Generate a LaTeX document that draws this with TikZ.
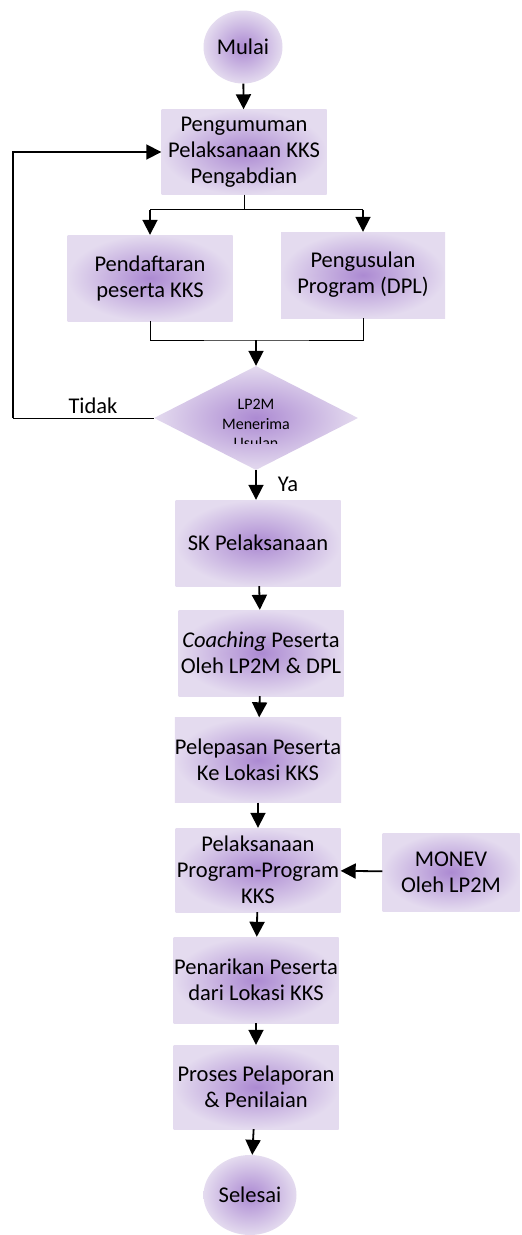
\documentclass[tikz,border=0pt]{standalone}
\usepackage{fontspec}
\setmainfont{Carlito}
\usepackage{tikz}
\usetikzlibrary{shapes.geometric}
\usetikzlibrary{arrows.meta}
\definecolor{lila}{RGB}{172,138,210}
\definecolor{lilapale}{RGB}{228,219,239}

\begin{document}
\begin{tikzpicture}[x=1pt,y=-1pt,
  >={Triangle[width=15pt,length=15pt]},
  kotak/.style={rectangle,minimum width=165,minimum height=85,inner sep=0,
    inner color=lila,outer color=lilapale,align=center,
    font=\fontsize{22.5}{26}\selectfont},
  bulat/.style={ellipse,inner sep=0,inner color=lila,outer color=lilapale,
    font=\fontsize{22.5}{26}\selectfont},
  panah/.style={->,line width=1.8pt},
  garis/.style={line width=1pt}]
\useasboundingbox (0,0) rectangle (522,1235);

\node [bulat,minimum width=79,minimum height=73] (mulai) at (243,47) {Mulai};
\node [kotak] (umum) at (244,152) {Pengumuman\\Pelaksanaan KKS\\Pengabdian};
\node [kotak,minimum height=86] (daftar) at (150,278) {Pendaftaran\\peserta KKS};
\node [kotak,minimum width=164,minimum height=86] (usul) at (363,275) {Pengusulan\\Program (DPL)};
\node [diamond,minimum width=204,minimum height=104,aspect=1.96,inner sep=0,
  inner color=lila,outer color=lilapale] (lp) at (256,418) {};
\begin{scope}
\clip (154,380) rectangle (358,443);
\node [align=center,font=\fontsize{16}{19.5}\selectfont] (lptext) at (256,424) {LP2M\\Menerima\\Usulan};
\end{scope}
\node [kotak,minimum height=86] (sk) at (258,543) {SK Pelaksanaan};
\node [kotak,minimum height=86] (coach) at (261,653) {\textit{Coaching} Peserta\\Oleh LP2M \& DPL};
\node [kotak] (lepas) at (258,760) {Pelepasan Peserta\\Ke Lokasi KKS};
\node [kotak,minimum height=84] (laksana) at (258,870) {Pelaksanaan\\Program-Program\\KKS};
\node [kotak,minimum width=137,minimum height=78] (monev) at (451,872) {MONEV\\Oleh LP2M};
\node [kotak,minimum height=86] (tarik) at (256,980) {Penarikan Peserta\\dari Lokasi KKS};
\node [kotak,minimum height=84] (lapor) at (256,1087) {Proses Pelaporan\\\& Penilaian};
\node [bulat,minimum width=93,minimum height=80] (selesai) at (250,1195) {Selesai};

\draw [panah] (mulai) -- (umum);
\draw [garis] (umum.south) -- ++(0,15) coordinate (pisah);
\draw [garis] (pisah -| daftar.north) -- (pisah -| usul.north);
\draw [panah] (pisah -| daftar.north) -- (daftar.north);
\draw [panah] (pisah -| usul.north) -- (usul.north);
\coordinate (gabung) at (256,340);
\draw [garis] (daftar.south) |- (gabung) -| (usul.south);
\draw [panah] (gabung) -- (lp.north);
\draw [garis] (lp.west) -- (13,418) coordinate (balik);
\draw [line width=1.8pt,->] (balik) |- (umum.west);
\node [font=\fontsize{22.5}{26}\selectfont] (tidak) at (93,406) {Tidak};
\draw [panah] (lp.south) -- (sk.north -| lp.south);
\node [font=\fontsize{22.5}{26}\selectfont] (ya) at (288,484) {Ya};
\draw [panah] (sk) -- (coach);
\draw [panah] (coach) -- (lepas);
\draw [panah] (lepas) -- (laksana);
\draw [panah] (monev) -- (laksana);
\draw [panah] (laksana) -- (tarik);
\draw [panah] (tarik) -- (lapor);
\draw [panah] (lapor) -- (selesai);

\end{tikzpicture}
\end{document}
